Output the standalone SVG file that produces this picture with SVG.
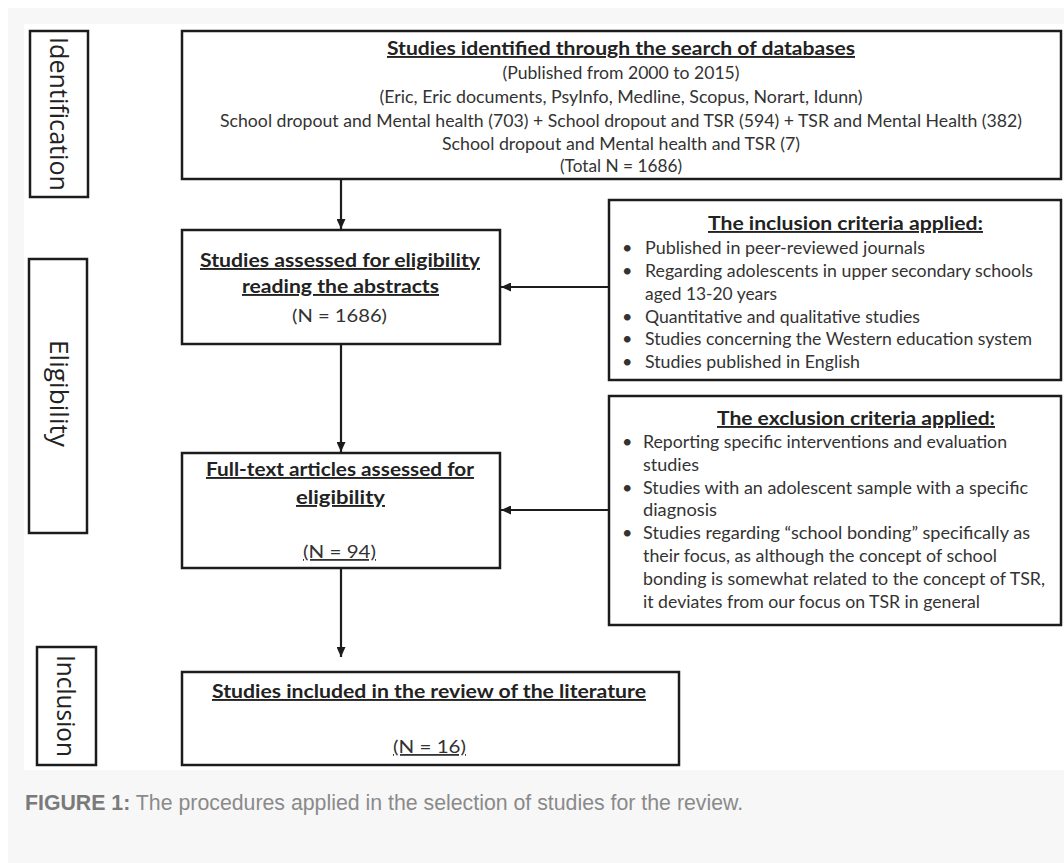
<svg xmlns="http://www.w3.org/2000/svg" width="1064" height="863" viewBox="0 0 1064 863">
<style>
.box{fill:#fff;stroke:#1c1c1c;stroke-width:2.5}
.lbl{font-family:"Open Sans","Liberation Sans",sans-serif;font-size:25px;fill:#222}
.t{font-family:Lato,"Open Sans",sans-serif;font-size:18px;fill:#333}
.b{font-family:Lato,"Open Sans",sans-serif;font-size:19px;font-weight:bold;fill:#222;text-decoration:underline}
.u{text-decoration:underline}
.c{text-anchor:middle}
.conn{stroke:#1c1c1c;stroke-width:2.2;fill:none}
.cap{font-family:"Liberation Sans",Arial,sans-serif;font-size:21.3px;fill:#8a8a8a}
</style>
<defs>
<marker id="arr" markerUnits="userSpaceOnUse" markerWidth="10" markerHeight="9" refX="10" refY="4.5" orient="auto">
<path d="M0,0 L10,4.5 L0,9 z" fill="#1c1c1c"/>
</marker>
</defs>
<rect x="0" y="0" width="1064" height="863" fill="#fff"/>
<rect x="8" y="8" width="1056" height="855" fill="#f7f7f7"/>
<rect x="24" y="24" width="1040" height="746" fill="#fff"/>

<g id="stage-identification">
<rect class="box" x="30" y="31" width="58" height="166"/>
<text class="lbl c" transform="translate(50,114) rotate(90)" textLength="154" lengthAdjust="spacingAndGlyphs">Identification</text>
</g>
<g id="stage-eligibility">
<rect class="box" x="29" y="259" width="58" height="274"/>
<text class="lbl c" transform="translate(50,393.5) rotate(90)" textLength="107" lengthAdjust="spacingAndGlyphs">Eligibility</text>
</g>
<g id="stage-inclusion">
<rect class="box" x="37" y="647" width="59" height="118"/>
<text class="lbl c" transform="translate(57,706) rotate(90)" textLength="102" lengthAdjust="spacingAndGlyphs">Inclusion</text>
</g>

<g id="identified">
<rect class="box" x="182" y="31" width="879" height="148"/>
<text class="b c" x="621" y="55" textLength="468" lengthAdjust="spacingAndGlyphs">Studies identified through the search of databases</text>
<text class="t c" x="621" y="79" textLength="237" lengthAdjust="spacingAndGlyphs">(Published from 2000 to 2015)</text>
<text class="t c" x="621" y="103" textLength="483" lengthAdjust="spacingAndGlyphs">(Eric, Eric documents, PsyInfo, Medline, Scopus, Norart, Idunn)</text>
<text class="t c" x="621" y="127" textLength="802" lengthAdjust="spacingAndGlyphs">School dropout  and Mental health (703) + School dropout  and TSR (594) + TSR and Mental Health (382)</text>
<text class="t c" x="621" y="150" textLength="358" lengthAdjust="spacingAndGlyphs">School dropout  and Mental health and TSR (7)</text>
<text class="t c" x="621" y="172" textLength="122" lengthAdjust="spacingAndGlyphs">(Total N = 1686)</text>
</g>

<g id="abstracts">
<rect class="box" x="182" y="230" width="318" height="114"/>
<text class="b c" x="340" y="267" textLength="280" lengthAdjust="spacingAndGlyphs">Studies assessed for eligibility</text>
<text class="b c" x="340.5" y="293" textLength="197" lengthAdjust="spacingAndGlyphs">reading the abstracts</text>
<text class="t c" x="339.5" y="322" textLength="95" lengthAdjust="spacingAndGlyphs">(N = 1686)</text>
</g>

<g id="fulltext">
<rect class="box" x="182" y="453" width="318" height="115"/>
<text class="b c" x="340" y="476" textLength="268" lengthAdjust="spacingAndGlyphs">Full-text articles assessed for</text>
<text class="b c" x="340.5" y="504" textLength="89" lengthAdjust="spacingAndGlyphs">eligibility</text>
<text class="t c u" x="339.5" y="558" textLength="73" lengthAdjust="spacingAndGlyphs">(N = 94)</text>
</g>

<g id="included">
<rect class="box" x="182" y="672" width="497" height="93"/>
<text class="b c" x="429" y="698" textLength="434" lengthAdjust="spacingAndGlyphs">Studies included in the review of the literature</text>
<text class="t c u" x="429.5" y="753" textLength="73" lengthAdjust="spacingAndGlyphs">(N = 16)</text>
</g>

<g id="inclusion-criteria">
<rect class="box" x="609" y="200" width="452" height="180"/>
<text class="b" x="708" y="230" textLength="275" lengthAdjust="spacingAndGlyphs">The inclusion criteria applied:</text>
<text class="t" x="622" y="254">•</text>
<text class="t" x="645" y="254" textLength="280" lengthAdjust="spacingAndGlyphs">Published in peer-reviewed journals</text>
<text class="t" x="622" y="277">•</text>
<text class="t" x="645" y="277" textLength="388" lengthAdjust="spacingAndGlyphs">Regarding adolescents in upper secondary schools</text>
<text class="t" x="645" y="300" textLength="132" lengthAdjust="spacingAndGlyphs">aged 13-20 years</text>
<text class="t" x="622" y="323">•</text>
<text class="t" x="645" y="323" textLength="275" lengthAdjust="spacingAndGlyphs">Quantitative and qualitative studies</text>
<text class="t" x="622" y="345">•</text>
<text class="t" x="645" y="345" textLength="387" lengthAdjust="spacingAndGlyphs">Studies concerning the Western education system</text>
<text class="t" x="622" y="368">•</text>
<text class="t" x="645" y="368" textLength="215" lengthAdjust="spacingAndGlyphs">Studies published in English</text>
</g>

<g id="exclusion-criteria">
<rect class="box" x="609" y="396" width="452" height="229"/>
<text class="b" x="717" y="425" textLength="278" lengthAdjust="spacingAndGlyphs">The exclusion criteria applied:</text>
<text class="t" x="622" y="448">•</text>
<text class="t" x="643" y="448" textLength="364" lengthAdjust="spacingAndGlyphs">Reporting specific interventions and evaluation</text>
<text class="t" x="643" y="471" textLength="56" lengthAdjust="spacingAndGlyphs">studies</text>
<text class="t" x="622" y="494">•</text>
<text class="t" x="643" y="494" textLength="385" lengthAdjust="spacingAndGlyphs">Studies with an adolescent sample with a specific</text>
<text class="t" x="643" y="516" textLength="74" lengthAdjust="spacingAndGlyphs">diagnosis</text>
<text class="t" x="622" y="539">•</text>
<text class="t" x="643" y="539" textLength="387" lengthAdjust="spacingAndGlyphs">Studies regarding “school bonding” specifically as</text>
<text class="t" x="643" y="562" textLength="354" lengthAdjust="spacingAndGlyphs">their focus, as although the concept of school</text>
<text class="t" x="643" y="585" textLength="402" lengthAdjust="spacingAndGlyphs">bonding is somewhat related to the concept of TSR,</text>
<text class="t" x="643" y="608" textLength="337" lengthAdjust="spacingAndGlyphs">it deviates from our focus on TSR in general</text>
</g>

<g id="connectors">
<line class="conn" x1="341" y1="180" x2="341" y2="229" marker-end="url(#arr)"/>
<line class="conn" x1="341" y1="345" x2="341" y2="452" marker-end="url(#arr)"/>
<line class="conn" x1="341" y1="569" x2="341" y2="657" marker-end="url(#arr)"/>
<line class="conn" x1="608" y1="287" x2="501" y2="287" marker-end="url(#arr)"/>
<line class="conn" x1="608" y1="510" x2="501" y2="510" marker-end="url(#arr)"/>
</g>

<text class="cap" x="25" y="810"><tspan font-weight="bold" fill="#7a7a7a">FIGURE 1:</tspan> The procedures applied in the selection of studies for the review.</text>
</svg>
